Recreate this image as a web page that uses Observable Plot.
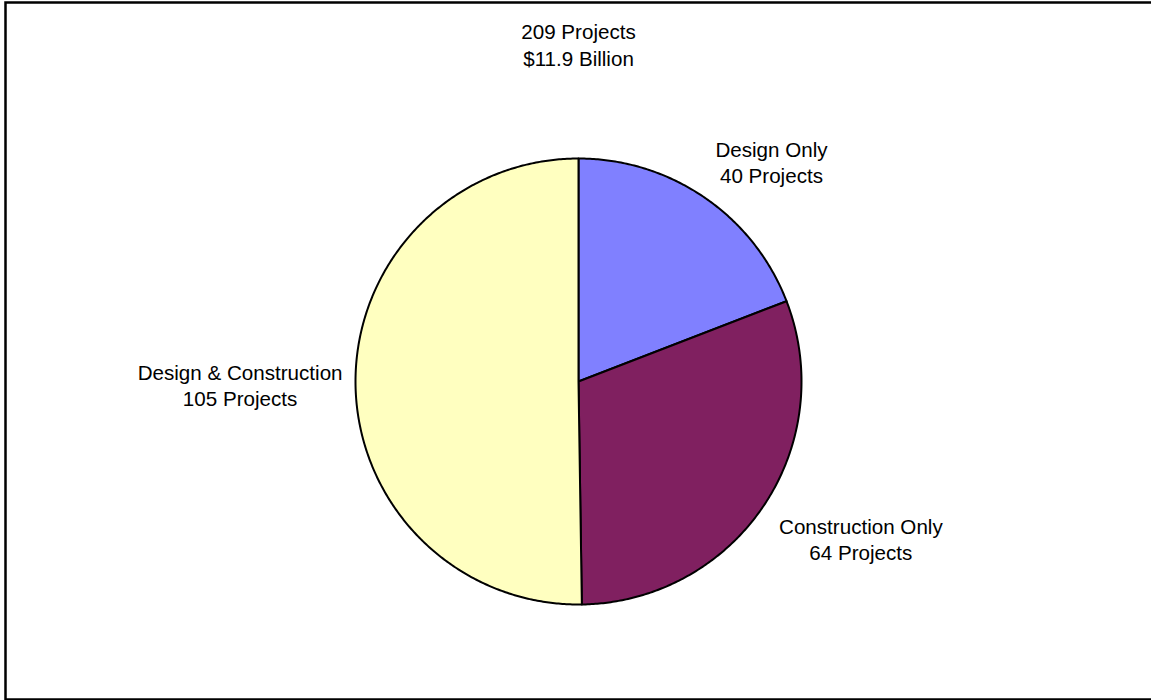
<!DOCTYPE html>
<html>
<head>
<meta charset="utf-8">
<script src="https://cdn.jsdelivr.net/npm/d3@7"></script>
<script src="https://cdn.jsdelivr.net/npm/@observablehq/plot@0.6"></script>
<style>
  html, body { margin: 0; padding: 0; background: #fff; }
  #chart svg { display: block; }
</style>
</head>
<body>
<div id="chart"></div>
<script>
// ---- data ----
const categories = ["Design Only", "Construction Only", "Design & Construction"];
const projects = [40, 64, 105];
const sliceColors = ["#8080FF", "#802060", "#FFFFC0"];
const titleLines = ["209 Projects", "$11.9 Billion"];

// ---- layout ----
const W = 1151, H = 700;
const cx = 578, cy = 381, r = 223;   // pie centre/radius in pixels
const FONT_SIZE = 20.6;
const FONT_FAMILY = "'Liberation Sans', Arial, sans-serif";

const ctx = document.createElement("canvas").getContext("2d");
ctx.font = `${FONT_SIZE}px ${FONT_FAMILY}`;
const blockWidth = lines => d3.max(lines, l => ctx.measureText(l).width);

const pie = d3.pie().sort(null).value(d => d.value)(categories.map((name, i) => ({name, value: projects[i]})));

// polygon points for each slice in unit coordinates (y up)
const pts = [];
for (const s of pie) {
  pts.push({name: s.data.name, x: 0, y: 0});
  const n = Math.max(2, Math.ceil((s.endAngle - s.startAngle) / (Math.PI / 360)));
  for (let k = 0; k <= n; k++) {
    const a = s.startAngle + (s.endAngle - s.startAngle) * k / n;
    pts.push({name: s.data.name, x: Math.sin(a), y: Math.cos(a)});
  }
}

const LR = 1.085;
const labelMarks = pie.map(s => {
  const a = (s.startAngle + s.endAngle) / 2;
  const sx = Math.sin(a), cyv = Math.cos(a);
  const lines = [s.data.name, `${s.data.value} Projects`];
  const w = blockWidth(lines);
  const side = sx > 0.2 ? 1 : sx < -0.2 ? -1 : 0;
  const lineAnchor = cyv > 0.3 ? "bottom" : cyv < -0.3 ? "top" : "middle";
  const extra = lineAnchor === "middle" ? 6 * side * -1 : 0;
  return Plot.text([s], {
    x: () => LR * sx, y: () => LR * cyv,
    text: () => lines.join("\n"),
    textAnchor: "middle", lineAnchor, lineHeight: 1.28,
    dx: side * w / 2 + extra,
    dy: lineAnchor === "middle" ? 1 : lineAnchor === "bottom" ? 1 : -2,
    fontSize: FONT_SIZE, fill: "black"
  });
});

const chart = Plot.plot({
  width: W, height: H,
  margin: 0,
  style: {fontFamily: FONT_FAMILY, background: "white", overflow: "hidden"},
  x: {domain: [-cx / r, (W - cx) / r], axis: null},
  y: {domain: [-(H - cy) / r, cy / r], axis: null},
  color: {domain: categories, range: sliceColors},
  marks: [
    Plot.frame({stroke: "black", strokeWidth: 2.5, insetLeft: 5, insetTop: 2, insetBottom: 1, insetRight: -3}),
    Plot.line(pts, {x: "x", y: "y", z: "name", fill: "name", stroke: "black", strokeWidth: 2, curve: "linear-closed", strokeLinejoin: "round"}),
    ...labelMarks,
    Plot.text([titleLines.join("\n")], {x: () => 0, frameAnchor: "top", lineAnchor: "top", lineHeight: 1.32, dy: 19, fontSize: FONT_SIZE, fill: "black", text: d => d})
  ]
});
document.getElementById("chart").appendChild(chart);
</script>
</body>
</html>
